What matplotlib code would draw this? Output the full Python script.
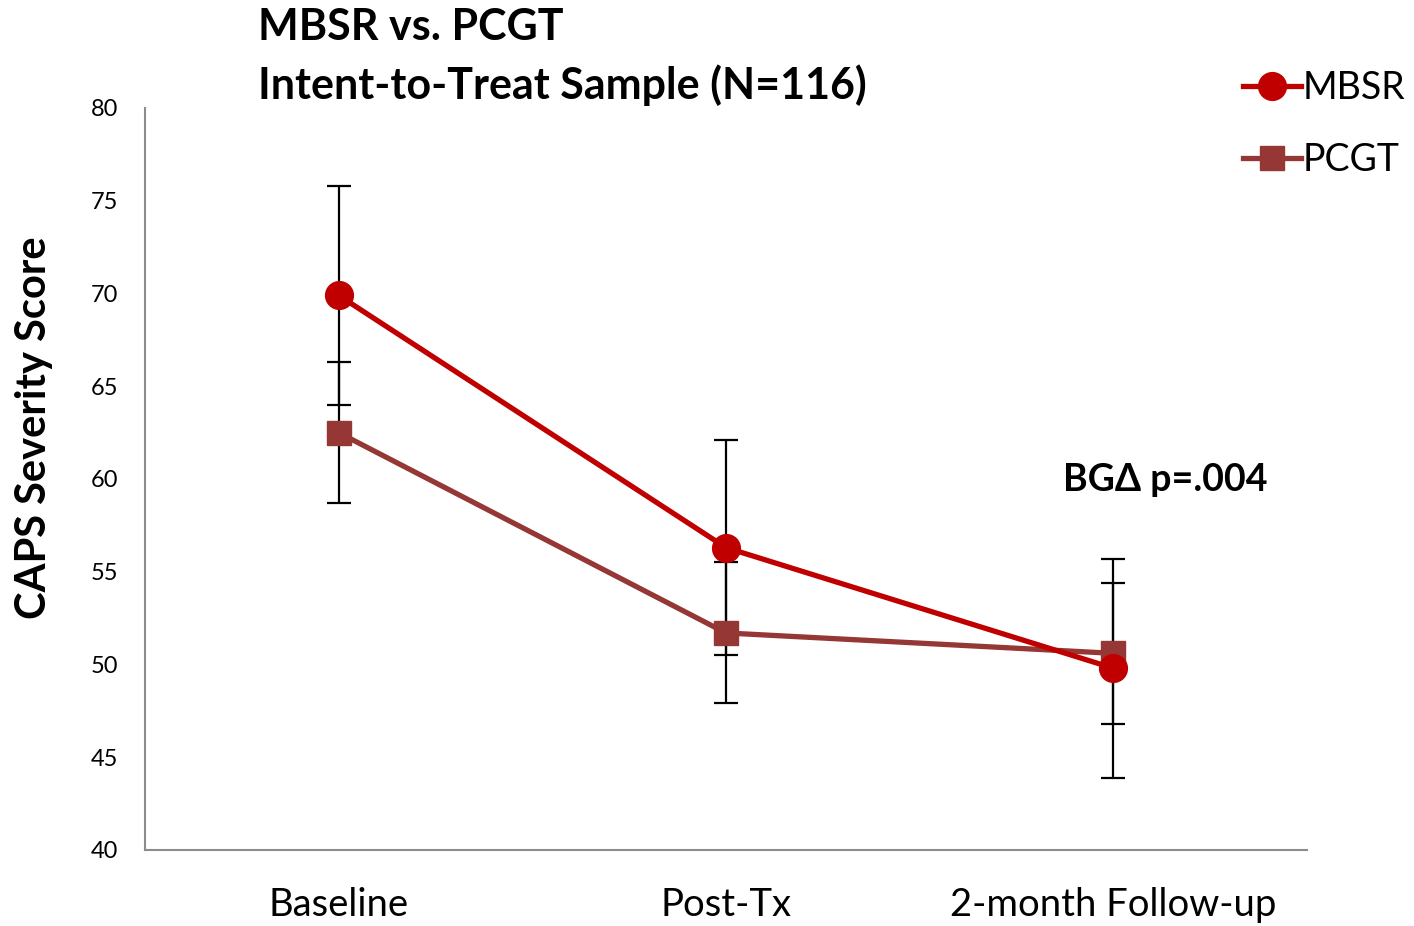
import matplotlib
matplotlib.use("Agg")
import matplotlib.pyplot as plt

# data
timepoints = ["Baseline", "Post-Tx", "2-month Follow-up"]
mbsr_mean = [69.9, 56.3, 49.8]
mbsr_err = [5.9, 5.8, 5.9]
pcgt_mean = [62.5, 51.7, 50.6]
pcgt_err = [3.8, 3.8, 3.8]
yticks = [40, 45, 50, 55, 60, 65, 70, 75, 80]

mbsr_color = "#C00000"
pcgt_color = "#953735"
label_font = ["Lato", "DejaVu Sans"]

fig = plt.figure(figsize=(14.14, 9.26), dpi=100)
ax = fig.add_axes([0.1025, 0.0821, 0.8218, 0.8013])

x = list(range(len(timepoints)))

# error bars behind the markers
ax.errorbar(x, mbsr_mean, yerr=mbsr_err, fmt="none", ecolor="black",
            elinewidth=1.6, capsize=8.5, capthick=1.6, zorder=2)
ax.errorbar(x, pcgt_mean, yerr=pcgt_err, fmt="none", ecolor="black",
            elinewidth=1.6, capsize=8.5, capthick=1.6, zorder=2)

ax.plot(x, mbsr_mean, color=mbsr_color, lw=3.8, marker="o", ms=20,
        label="MBSR", zorder=4)
ax.plot(x, pcgt_mean, color=pcgt_color, lw=3.8, marker="s", ms=17,
        label="PCGT", zorder=3)

ax.set_xlim(-0.5, 2.5)
ax.set_ylim(40, 80)
ax.set_yticks(yticks)
ax.set_yticklabels([str(v) for v in yticks], fontsize=17, family=label_font)
ax.set_xticks(x)
ax.set_xticklabels(timepoints, fontsize=27.5, family=label_font)
ax.tick_params(axis="y", length=0, pad=19)
ax.tick_params(axis="x", length=0, pad=27)

for side in ["top", "right"]:
    ax.spines[side].set_visible(False)
for side in ["left", "bottom"]:
    ax.spines[side].set_color("#8c8c8c")
    ax.spines[side].set_linewidth(1.5)

fig.text(34 / 1414, 1 - 428 / 926, "CAPS Severity Score", fontsize=30,
         fontweight="bold", family=label_font, rotation=90,
         ha="center", va="center")

fig.text(258 / 1414, 1 - 27 / 926, "MBSR vs. PCGT", fontsize=31,
         fontweight="bold", family=label_font, va="center", ha="left")
fig.text(258 / 1414, 1 - 85 / 926, "Intent-to-Treat Sample (N=116)", fontsize=31,
         fontweight="bold", family=label_font, va="center", ha="left")

fig.text(1165 / 1414, 1 - 480 / 926, "BGΔ p=.004", fontsize=27,
         fontweight="bold", family=label_font, ha="center", va="center")

fig.legend(loc="upper left", bbox_to_anchor=(1243 / 1414, 1 - 70 / 926),
           frameon=False, prop={"family": label_font, "size": 27},
           handlelength=1.55, handletextpad=0.05, labelspacing=0.95,
           borderpad=0, borderaxespad=0, markerscale=1.0)

fig.savefig("out.png", dpi=100)
